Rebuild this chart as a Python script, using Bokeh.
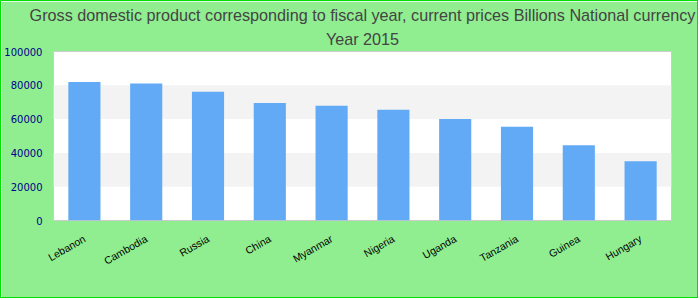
from bokeh.plotting import figure
from bokeh.models import FactorRange, Range1d, FixedTicker, NumeralTickFormatter, Title
from bokeh.embed import file_html
from bokeh.resources import INLINE
import math

countries = ["Lebanon", "Cambodia", "Russia", "China", "Myanmar",
             "Nigeria", "Uganda", "Tanzania", "Guinea", "Hungary"]
gdp = [82000, 81000, 76200, 69600, 67900, 65500, 60100, 55400, 44600, 35100]
y_ticks = [0, 20000, 40000, 60000, 80000, 100000]
title_lines = ["Gross domestic product corresponding to fiscal year, current prices Billions National currency",
               "Year 2015"]

p = figure(width=698, height=298, output_backend="svg", toolbar_location=None,
           x_range=FactorRange(factors=countries, range_padding=0),
           y_range=Range1d(0, 100000),
           min_border_left=49, min_border_right=28, min_border_top=50, min_border_bottom=79,
           background_fill_color="white", border_fill_color="#90ee90")
p.styles = {"border": "1px solid #00e000"}

p.vbar(x=countries, top=gdp, width=0.52, fill_color="#62aaf5", line_color=None)

p.title.visible = False
for i, line in enumerate(reversed(title_lines)):
    t = Title(text=line, align="center", text_font="Liberation Sans", text_font_size="16.2px",
              text_font_style="normal", text_color="#444444",
              standoff=7 if i == 0 else 2, offset=0)
    p.add_layout(t, "above")

p.outline_line_color = "#cccccc"
p.outline_line_width = 1

p.xgrid.grid_line_color = None
p.ygrid.grid_line_color = None
p.ygrid.band_fill_color = "#f3f3f3"
p.ygrid.band_fill_alpha = 1
p.yaxis.ticker = FixedTicker(ticks=y_ticks)
p.yaxis.formatter = NumeralTickFormatter(format="0")
p.yaxis.axis_line_color = None
p.yaxis.major_tick_line_color = None
p.yaxis.minor_tick_line_color = None
p.yaxis.major_tick_out = 0
p.yaxis.major_tick_in = 0
p.yaxis.minor_tick_out = 0
p.yaxis.major_label_text_color = "#00008b"
p.yaxis.major_label_text_font = "DejaVu Sans"
p.yaxis.major_label_text_font_size = "10px"
p.yaxis.major_label_standoff = 11

p.xaxis.axis_line_color = None
p.xaxis.major_tick_line_color = None
p.xaxis.minor_tick_line_color = None
p.xaxis.major_tick_out = 0
p.xaxis.major_tick_in = 0
p.xaxis.minor_tick_out = 0
p.xaxis.major_label_orientation = math.pi / 6
p.xaxis.major_label_text_font = "Liberation Sans"
p.xaxis.major_label_text_font_size = "10.5px"
p.xaxis.major_label_text_color = "#000000"
p.xaxis.major_label_standoff = 17

open("out.html", "w").write(file_html(p, INLINE))
